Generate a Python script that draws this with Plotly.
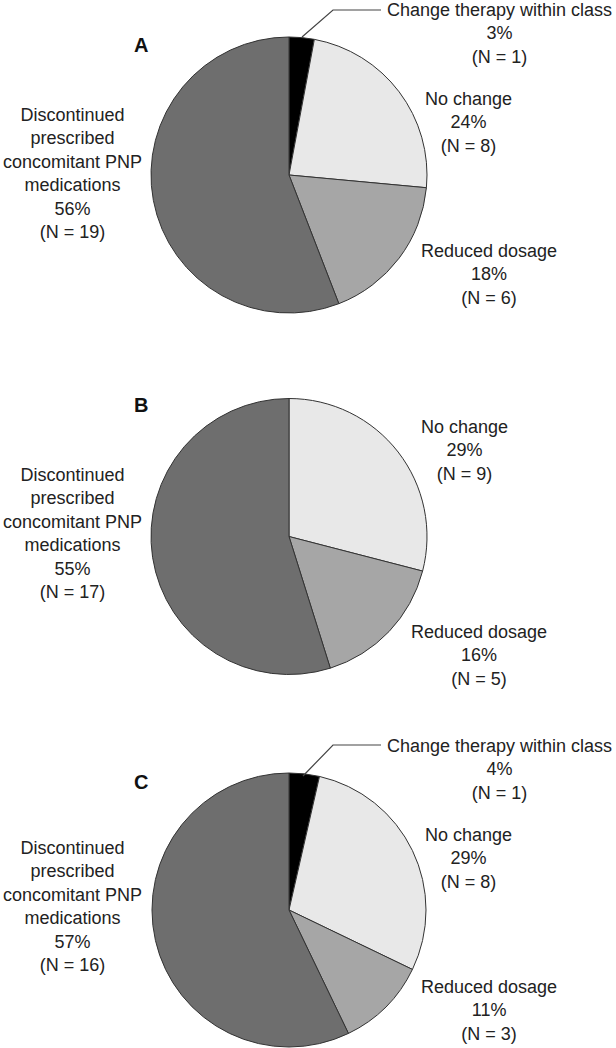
import plotly.graph_objects as go

W, H = 616, 1048

categories = ["Change therapy within class", "No change", "Reduced dosage",
              "Discontinued prescribed concomitant PNP medications"]
colors = ["#000000", "#e8e8e8", "#a6a6a6", "#6e6e6e"]

counts_A = [1, 8, 6, 19]
counts_B = [0, 9, 5, 17]
counts_C = [1, 8, 3, 16]

pct_A = ["3%", "24%", "18%", "56%"]
pct_B = ["", "29%", "16%", "55%"]
pct_C = ["4%", "29%", "11%", "57%"]

panel_letters = ["A", "B", "C"]

label_lines = {
    categories[0]: "Change therapy within class",
    categories[1]: "No change",
    categories[2]: "Reduced dosage",
    categories[3]: "Discontinued<br>prescribed<br>concomitant PNP<br>medications",
}

# layout (pixel geometry)
pies = [
    dict(counts=counts_A, pct=pct_A, cx=289, cy=175, r=138,
         pos=[(499, 33), (468, 122), (489, 274), (72, 173)], letter=(141, 45),
         leader=[(302, 37), (333, 10), (381, 10)]),
    dict(counts=counts_B, pct=pct_B, cx=289, cy=536.5, r=138,
         pos=[None, (464, 450), (479, 655), (72, 533)], letter=(141, 405),
         leader=None),
    dict(counts=counts_C, pct=pct_C, cx=289, cy=910, r=137,
         pos=[(499, 769), (468, 858), (489, 1010), (72, 906)], letter=(141, 782),
         leader=[(303, 776), (333, 745), (381, 745)]),
]

FONT = "Liberation Sans, Arial, sans-serif"
fig = go.Figure()
annotations = []
shapes = []

for i, p in enumerate(pies):
    x0 = (p["cx"] - p["r"]) / W
    x1 = (p["cx"] + p["r"]) / W
    y0 = 1 - (p["cy"] + p["r"]) / H
    y1 = 1 - (p["cy"] - p["r"]) / H
    fig.add_trace(go.Pie(
        labels=categories, values=p["counts"],
        marker=dict(colors=colors, line=dict(color="#333333", width=1)),
        sort=False, direction="clockwise", rotation=0,
        textinfo="none", hoverinfo="label+value", showlegend=False,
        domain=dict(x=[x0, x1], y=[y0, y1]),
    ))
    for k, cat in enumerate(categories):
        if p["pos"][k] is None or p["counts"][k] == 0:
            continue
        txt = f"{label_lines[cat]}<br>{p['pct'][k]}<br>(N = {p['counts'][k]})"
        annotations.append(dict(
            x=p["pos"][k][0], y=p["pos"][k][1], xref="x", yref="y",
            text=txt, showarrow=False, xanchor="center", yanchor="middle",
            align="center", font=dict(family=FONT, size=18, color="#222222"),
        ))
    annotations.append(dict(
        x=p["letter"][0], y=p["letter"][1], xref="x", yref="y",
        text=f"<b>{panel_letters[i]}</b>", showarrow=False,
        xanchor="center", yanchor="middle",
        font=dict(family=FONT, size=20, color="#111111"),
    ))
    if p["leader"]:
        pts = p["leader"]
        path = "M {} {} L {} {} L {} {}".format(*pts[0], *pts[1], *pts[2])
        shapes.append(dict(type="path", path=path, xref="x", yref="y",
                           line=dict(color="#444444", width=1.2), layer="above"))

fig.update_layout(
    width=W, height=H,
    margin=dict(l=0, r=0, t=0, b=0),
    paper_bgcolor="white", plot_bgcolor="rgba(0,0,0,0)",
    xaxis=dict(range=[0, W], visible=False, fixedrange=True, domain=[0, 1]),
    yaxis=dict(range=[H, 0], visible=False, fixedrange=True, domain=[0, 1]),
    annotations=annotations, shapes=shapes,
    font=dict(family=FONT),
)

fig.write_html(
    "out.html",
    config={"displayModeBar": False},
    post_script="document.body.style.margin='0';document.body.style.overflow='hidden';",
)
